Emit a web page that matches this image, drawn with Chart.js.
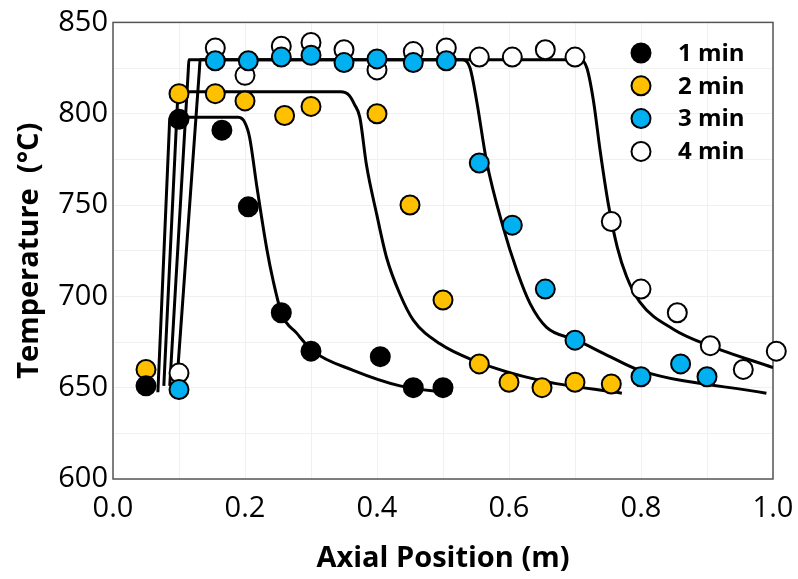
<!DOCTYPE html>
<html lang="en">
<head>
  <meta charset="UTF-8" />
  <title>Temperature vs Axial Position</title>
  <script src="https://cdn.jsdelivr.net/npm/chart.js"></script>
  <style>
    html, body { margin: 0; padding: 0; background: #fff; }
    #wrap { width: 798px; height: 579px; }
  </style>
</head>
<body>
  <div id="wrap"><canvas id="tempChart" width="798" height="579"></canvas></div>

  <script>
    // measured points
    const seriesNames = ['1 min', '2 min', '3 min', '4 min'];
    const seriesColors = ['#000000', '#FFC000', '#00B0F0', '#FFFFFF'];

    const pos1 = [0.05, 0.10, 0.165, 0.205, 0.255, 0.30, 0.405, 0.455, 0.50];
    const temp1 = [651, 797, 791, 749, 691, 670, 667, 650, 650];

    const pos2 = [0.05, 0.10, 0.155, 0.20, 0.26, 0.30, 0.40, 0.45, 0.50, 0.555, 0.60, 0.65, 0.70, 0.755];
    const temp2 = [660, 811, 811, 807, 799, 804, 800, 750, 698, 663, 653, 650, 653, 652];

    const pos3 = [0.10, 0.155, 0.205, 0.255, 0.30, 0.35, 0.40, 0.455, 0.505, 0.555, 0.605, 0.655, 0.70, 0.80, 0.86, 0.90];
    const temp3 = [649, 829, 829, 831, 832, 828, 830, 828, 829, 773, 739, 704, 676, 656, 663, 656];

    const pos4 = [0.10, 0.155, 0.20, 0.255, 0.30, 0.35, 0.40, 0.455, 0.505, 0.555, 0.605, 0.655, 0.70, 0.755, 0.80, 0.855, 0.905, 0.955, 1.005];
    const temp4 = [658, 836, 821, 837, 839, 835, 824, 834, 836, 831, 831, 835, 831, 741, 704, 691, 673, 660, 670];

    // model curves
    const model1X = [0.068, 0.0853, 0.086, 0.19, 0.20, 0.207, 0.218, 0.233, 0.243, 0.256, 0.278, 0.303, 0.364, 0.435, 0.513];
    const model1Y = [647.5, 792, 798, 798, 795, 787, 760, 726, 708, 690, 680, 670, 659.5, 651, 647];

    const model2X = [0.077, 0.0978, 0.0985, 0.345, 0.358, 0.366, 0.374, 0.384, 0.3995, 0.4147, 0.435, 0.455, 0.4955, 0.546, 0.647, 0.771];
    const model2Y = [651, 807, 812, 812, 810, 805, 798, 772, 745, 721, 701, 687, 674, 665, 654, 647];

    const model3X = [0.086, 0.1141, 0.115, 0.53, 0.541, 0.551, 0.566, 0.591, 0.612, 0.632, 0.657, 0.7025, 0.753, 0.798, 0.99];
    const model3Y = [651, 824, 829.5, 829.5, 825, 807, 774, 738, 714, 696, 683, 676, 667, 659.5, 647];

    const model4X = [0.097, 0.1309, 0.132, 0.708, 0.718, 0.728, 0.738, 0.7505, 0.764, 0.778, 0.798, 0.849, 0.9035, 1.0];
    const model4Y = [654, 824, 829.5, 829.5, 825, 807, 780, 750.5, 727, 711, 697, 682, 673, 661];

    const xTicks = [0.0, 0.2, 0.4, 0.6, 0.8, 1.0];
    const yTicks = [600, 650, 700, 750, 800, 850];

    const toXY = (xs, ys) => xs.map((x, i) => ({ x: x, y: ys[i] }));

    const pointSets = [[pos1, temp1], [pos2, temp2], [pos3, temp3], [pos4, temp4]];
    const modelSets = [[model1X, model1Y], [model2X, model2Y], [model3X, model3Y], [model4X, model4Y]];

    const datasets = [];
    pointSets.forEach((s, i) => {
      datasets.push({
        label: seriesNames[i],
        data: toXY(s[0], s[1]),
        backgroundColor: seriesColors[i],
        borderColor: '#000',
        borderWidth: 2,
        pointRadius: 9.5,
        pointHoverRadius: 9.5,
        showLine: false,
        clip: false,
        order: i + 1
      });
    });
    modelSets.forEach((s, i) => {
      datasets.push({
        label: 'model ' + seriesNames[i],
        data: toXY(s[0], s[1]),
        borderColor: '#000',
        borderWidth: 3,
        pointRadius: 0,
        showLine: true,
        cubicInterpolationMode: 'monotone',
        order: 10
      });
    });

    const framePlugin = {
      id: 'frame',
      beforeDatasetsDraw(chart) {
        const a = chart.chartArea, ctx = chart.ctx;
        ctx.save();
        ctx.strokeStyle = '#555';
        ctx.lineWidth = 1.5;
        ctx.strokeRect(a.left, a.top, a.right - a.left, a.bottom - a.top);
        ctx.restore();
      }
    };

    const legendPlugin = {
      id: 'insideLegend',
      afterDraw(chart) {
        const ctx = chart.ctx;
        ctx.save();
        seriesNames.forEach((name, i) => {
          const y = 53 + i * 32.8;
          ctx.beginPath();
          ctx.arc(641, y, 9.5, 0, Math.PI * 2);
          ctx.fillStyle = seriesColors[i];
          ctx.fill();
          ctx.lineWidth = 2;
          ctx.strokeStyle = '#000';
          ctx.stroke();
          ctx.fillStyle = '#000';
          ctx.font = 'bold 24px "Open Sans"';
          ctx.textBaseline = 'middle';
          ctx.textAlign = 'left';
          ctx.fillText(name, 678, y + 1);
        });
        ctx.restore();
      }
    };

    new Chart(document.getElementById('tempChart'), {
      type: 'scatter',
      data: { datasets: datasets },
      options: {
        responsive: false,
        animation: false,
        events: [],
        layout: { padding: { top: 21, right: 25, left: 0, bottom: 0 } },
        plugins: { legend: { display: false }, tooltip: { enabled: false } },
        scales: {
          x: {
            type: 'linear',
            min: 0,
            max: 1,
            afterFit: s => { s.height = 100; s.paddingRight = 0; s.paddingLeft = 0; },
            afterBuildTicks: s => {
              // grid every 0.1, labels at xTicks
              s.ticks = [];
              for (let k = 0; k <= 10; k++) s.ticks.push({ value: k / 10 });
            },
            ticks: {
              autoSkip: false,
              maxRotation: 0,
              padding: 12,
              color: '#000',
              font: { family: 'Open Sans', size: 29 },
              callback: v => {
                const t = xTicks.find(t => Math.abs(t - v) < 1e-6);
                return t === undefined ? '' : t.toFixed(1);
              }
            },
            grid: { color: '#f0f0f0', drawTicks: false },
            border: { display: false },
            title: {
              display: true,
              text: 'Axial Position (m)',
              color: '#000',
              padding: 3,
              font: { family: 'Open Sans', size: 29, weight: 'bold' }
            }
          },
          y: {
            min: 600,
            max: 850,
            afterFit: s => { s.width = 113; },
            afterBuildTicks: s => {
              s.ticks = [];
              for (let v = 600; v <= 850; v += 25) s.ticks.push({ value: v });
            },
            ticks: {
              autoSkip: false,
              padding: 5,
              color: '#000',
              font: { family: 'Open Sans', size: 29 },
              callback: v => (yTicks.includes(v) ? String(v) : '')
            },
            grid: { color: '#f0f0f0', drawTicks: false },
            border: { display: false },
            title: {
              display: true,
              text: 'Temperature  (°C)',
              color: '#000',
              padding: 12,
              font: { family: 'Open Sans', size: 29, weight: 'bold' }
            }
          }
        }
      },
      plugins: [framePlugin, legendPlugin]
    });
  </script>
</body>
</html>
